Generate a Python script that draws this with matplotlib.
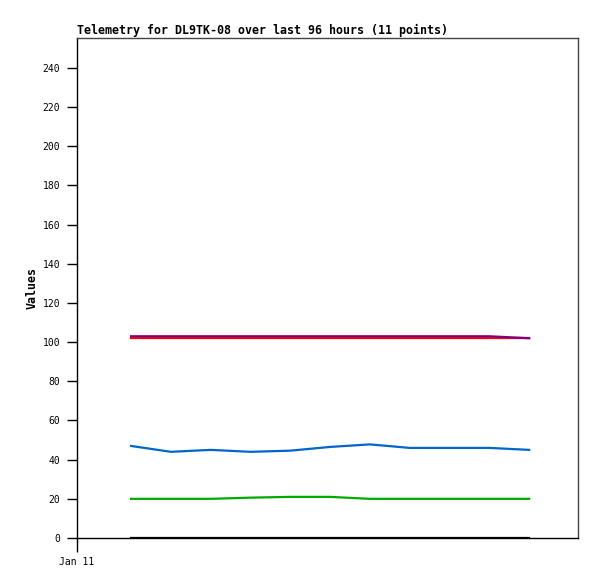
import datetime as dt
import matplotlib
matplotlib.use("Agg")
import matplotlib.pyplot as plt
import matplotlib.dates as mdates

# 11 telemetry samples on Jan 11 (roughly every 2 hours)
t0 = dt.datetime(2024, 1, 11, 2, 43)
times = [t0 + dt.timedelta(hours=2 * i) for i in range(11)]

ch_red = [102, 102, 102, 102, 102, 102, 102, 102, 102, 102, 102]
ch_purple = [103, 103, 103, 103, 103, 103, 103, 103, 103, 103, 102]
ch_blue = [47, 44, 45, 44, 44.6, 46.5, 47.8, 46, 46, 46, 45]
ch_green = [20, 20, 20, 20.6, 21, 21, 20, 20, 20, 20, 20]
ch_black = [0, 0, 0, 0, 0, 0, 0, 0, 0, 0, 0]

yticks = list(range(0, 241, 20))

W, H = 597, 579
fig = plt.figure(figsize=(W / 100, H / 100), dpi=100)
ax = fig.add_axes([77 / W, (H - 538) / H, (578 - 77) / W, (538 - 38) / H])

mono = "DejaVu Sans Mono"
lw = 1.6
ax.plot(times, ch_black, color="#000000", lw=lw)
ax.plot(times, ch_green, color="#00aa00", lw=lw)
ax.plot(times, ch_blue, color="#0066cc", lw=lw)
ax.plot(times, ch_red, color="#ff0000", lw=lw)
ax.plot(times, ch_purple, color="#800080", lw=lw)

ax.set_ylim(0, 255.3)
ax.set_yticks(yticks)
start = dt.datetime(2024, 1, 11)
ax.set_xlim(start, start + dt.timedelta(hours=25.17))
ax.set_xticks([start])
ax.xaxis.set_major_formatter(mdates.DateFormatter("%b %d"))

for s in ax.spines.values():
    s.set_color("#444444")
    s.set_linewidth(1)
ax.spines["left"].set_color("black")
ax.spines["bottom"].set_color("black")

ax.tick_params(axis="y", direction="out", length=7, width=1, pad=5, labelsize=7)
ax.tick_params(axis="x", direction="out", length=10, width=1, pad=4, labelsize=7)
for lab in ax.get_xticklabels() + ax.get_yticklabels():
    lab.set_family(mono)

ax.set_title("Telemetry for DL9TK-08 over last 96 hours (11 points)",
             loc="left", family=mono, fontsize=8.4, fontweight="bold", pad=3)
ax.set_ylabel("Values", family=mono, fontsize=8.4, fontweight="bold", labelpad=3)

fig.savefig("out.png", dpi=100)
